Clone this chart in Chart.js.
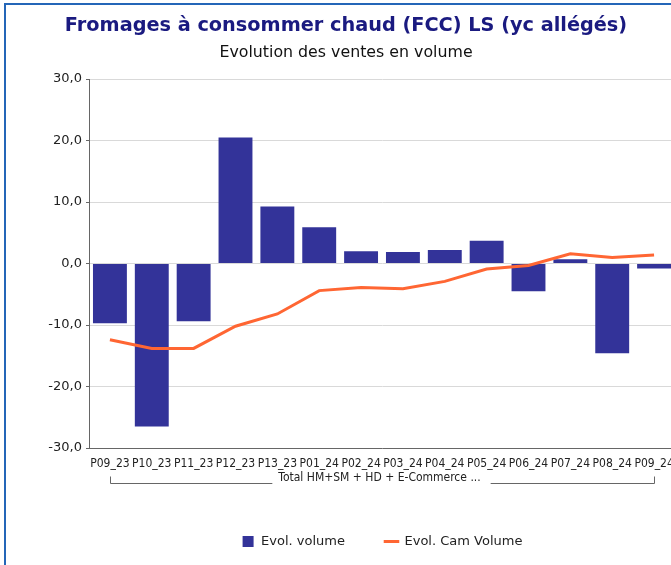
<!DOCTYPE html>
<html>
<head>
<meta charset="utf-8">
<script src="https://cdn.jsdelivr.net/npm/chart.js@4.4.1/dist/chart.umd.min.js"></script>
<style>
  html, body { margin: 0; padding: 0; background: #fff; overflow: hidden; }
  #frame { position: absolute; left: 4px; top: 3px; width: 700px; height: 600px;
           border-top: 2px solid #2466b8; border-left: 2px solid #2466b8; }
  #wrap { position: absolute; left: 0; top: 0; width: 692px; height: 565px; }
</style>
</head>
<body>
<div id="frame"></div>
<div id="wrap"><canvas id="chart"></canvas></div>
<script>
// périodes et valeurs (%)
const periodes = ['P09_23', 'P10_23', 'P11_23', 'P12_23', 'P13_23', 'P01_24', 'P02_24',
                  'P03_24', 'P04_24', 'P05_24', 'P06_24', 'P07_24', 'P08_24', 'P09_24'];
const evolVolume = [-9.7, -26.5, -9.4, 20.5, 9.3, 5.9, 2.0, 1.9, 2.2, 3.7, -4.5, 0.7, -14.6, -0.8];
const evolCamVolume = [-12.4, -13.8, -13.8, -10.2, -8.2, -4.4, -3.9, -4.1, -2.9, -0.9, -0.3, 1.6, 1.0, 1.4];
const yTicks = [-30, -20, -10, 0, 10, 20, 30];
const groupeLabel = 'Total HM+SM + HD + E-Commerce ...';

const FONT = "'DejaVu Sans', sans-serif";
const FONT_NARROW = "'DejaVu Sans Condensed', 'Liberation Sans Narrow', sans-serif";

const fmt = v => v.toFixed(1).replace('.', ',');

// accolade sous les libellés de l'axe X
const groupBracket = {
  id: 'groupBracket',
  afterDraw(chart) {
    const x = chart.scales.x;
    const ctx = chart.ctx;
    const x1 = Math.round(x.getPixelForValue(0)) + 0.5;
    const x2 = Math.round(x.getPixelForValue(periodes.length - 1)) + 0.5;
    const y = Math.round(x.top) + 35.5, yTop = y - 7;
    ctx.save();
    ctx.font = '12px ' + FONT_NARROW;
    ctx.fillStyle = '#222';
    ctx.textAlign = 'center';
    ctx.textBaseline = 'middle';
    const cx = (x1 + x2) / 2 - 3;
    ctx.fillText(groupeLabel, cx, y - 6);
    const w = ctx.measureText(groupeLabel).width;
    ctx.strokeStyle = '#666';
    ctx.lineWidth = 1;
    ctx.beginPath();
    ctx.moveTo(x1, yTop); ctx.lineTo(x1, y); ctx.lineTo(cx - w / 2 - 6, y);
    ctx.moveTo(cx + w / 2 + 10, y); ctx.lineTo(x2, y); ctx.lineTo(x2, yTop);
    ctx.stroke();
    ctx.restore();
  }
};

new Chart(document.getElementById('chart'), {
  type: 'bar',
  data: {
    labels: periodes,
    datasets: [
      {
        type: 'bar',
        label: 'Evol. volume',
        data: evolVolume,
        backgroundColor: '#333399',
        borderWidth: 0,
        categoryPercentage: 1,
        barPercentage: 0.81,
        order: 1
      },
      {
        type: 'line',
        label: 'Evol. Cam Volume',
        data: evolCamVolume,
        borderColor: '#ff6633',
        backgroundColor: '#ff6633',
        borderWidth: 3,
        pointRadius: 0,
        tension: 0,
        order: 0
      }
    ]
  },
  options: {
    responsive: true,
    maintainAspectRatio: false,
    animation: false,
    layout: { padding: { left: 0, right: 0, bottom: 7 } },
    plugins: {
      title: {
        display: true,
        text: 'Fromages à consommer chaud (FCC) LS (yc allégés)',
        color: '#1a1a80',
        font: { family: FONT, size: 19.3, weight: 'bold' },
        padding: { top: 14, bottom: 6 }
      },
      subtitle: {
        display: true,
        text: 'Evolution des ventes en volume',
        color: '#111',
        font: { family: FONT, size: 15.8 },
        padding: { top: 0, bottom: 17 }
      },
      legend: {
        position: 'bottom',
        fullSize: false,
        labels: {
          color: '#222',
          font: { family: FONT, size: 13 },
          usePointStyle: true,
          boxHeight: 11,
          padding: 40,
          generateLabels(chart) {
            return chart.data.datasets.map((ds, i) => ({
              text: ds.label,
              datasetIndex: i,
              fillStyle: ds.type === 'line' ? ds.borderColor : ds.backgroundColor,
              strokeStyle: ds.type === 'line' ? ds.borderColor : ds.backgroundColor,
              lineWidth: ds.type === 'line' ? 3 : 0,
              pointStyle: ds.type === 'line' ? 'line' : 'rect',
              fontColor: '#222'
            }));
          }
        }
      },
      tooltip: { enabled: false }
    },
    scales: {
      x: {
        grid: { display: false },
        border: { display: true, color: '#666', width: 1 },
        ticks: {
          color: '#222',
          font: { family: FONT_NARROW, size: 12 },
          autoSkip: false,
          maxRotation: 0,
          padding: 1
        },
        afterFit(scale) { scale.height = 47; }
      },
      y: {
        min: -30,
        max: 30,
        afterBuildTicks(scale) { scale.ticks = yTicks.map(v => ({ value: v })); },
        grid: { color: '#d9d9d9', lineWidth: 1, tickLength: 3, tickColor: '#666' },
        border: { display: true, color: '#666', width: 1 },
        ticks: {
          color: '#222',
          font: { family: FONT, size: 13 },
          padding: 4,
          callback: v => fmt(v)
        },
        afterFit(scale) { scale.width = 89; }
      },
      // marge droite réservée (pas d'axe visible)
      marge: {
        position: 'right',
        min: 0,
        max: 1,
        grid: { display: false },
        border: { display: false },
        ticks: { display: false },
        afterFit(scale) { scale.width = 17; }
      }
    }
  },
  plugins: [groupBracket]
});
</script>
</body>
</html>
